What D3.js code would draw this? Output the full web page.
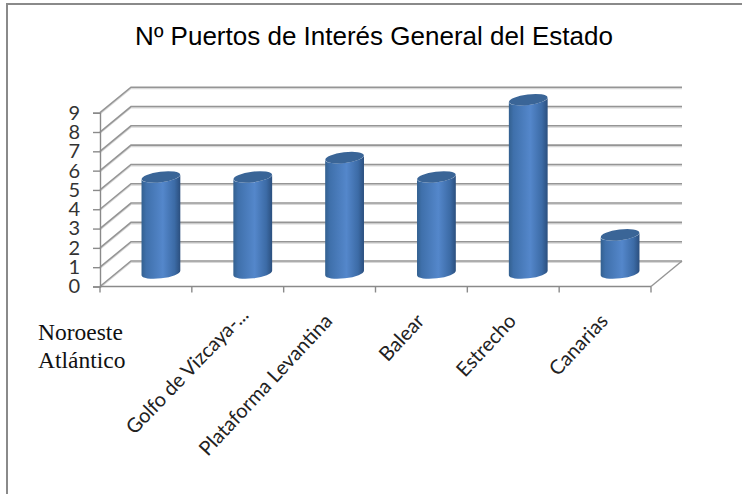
<!DOCTYPE html>
<html>
<head>
<meta charset="utf-8">
<script src="https://cdn.jsdelivr.net/npm/d3@7"></script>
<style>
  html, body { margin: 0; padding: 0; background: #fff; }
  svg { display: block; }
</style>
</head>
<body>
<div id="chart"></div>
<script>
var categories = ["Noroeste Atlántico", "Golfo de Vizcaya-...", "Plataforma Levantina", "Balear", "Estrecho", "Canarias"];
var puertos = [5, 5, 6, 5, 9, 2];
var yTicks = [0, 1, 2, 3, 4, 5, 6, 7, 8, 9];
var titulo = "Nº Puertos de Interés General del Estado";

var width = 742,
    height = 494,
    depthX = 31,   // how far the back wall is shifted from the front axis
    depthY = 25.5;

var svg = d3.select("#chart")
    .append("svg")
    .attr("width", width)
    .attr("height", height);

var x = d3.scaleBand()
    .domain(categories)
    .range([100, 651]);

var y = d3.scaleLinear()
    .domain([0, 9])
    .range([286.5, 112.7]);

var defs = svg.append("defs");

var grad = defs.append("linearGradient").attr("id", "cuerpo");
grad.append("stop").attr("offset", "0%").attr("stop-color", "#33608f");
grad.append("stop").attr("offset", "12%").attr("stop-color", "#3f70ab");
grad.append("stop").attr("offset", "55%").attr("stop-color", "#5487cb");
grad.append("stop").attr("offset", "85%").attr("stop-color", "#3c6ba6");
grad.append("stop").attr("offset", "100%").attr("stop-color", "#2b4f7e");

// frame, only top and left show in the picture
svg.append("path")
    .attr("d", "M7," + height + "V4H" + width)
    .attr("fill", "none")
    .attr("stroke", "#8a8a8a")
    .attr("stroke-width", 2);

svg.append("text")
    .attr("x", 374)
    .attr("y", 45)
    .attr("text-anchor", "middle")
    .style("font-family", "Liberation Sans, Arial, sans-serif")
    .style("font-size", "26px")
    .style("fill", "#000")
    .text(titulo);

// wall lines and the slanted part going to the front axis
var grid = svg.append("g").attr("fill", "none");

function gridPath(d) {
    var y0 = y(d);
    return "M" + x.range()[0] + "," + y0 +
        "L" + (x.range()[0] + depthX) + "," + (y0 - depthY) +
        "H" + (x.range()[1] + depthX);
}

grid.selectAll(".sombra")
    .data(yTicks)
    .enter()
    .append("path")
    .attr("class", "sombra")
    .attr("d", gridPath)
    .attr("transform", "translate(0,1.4)")
    .attr("stroke", "#d8d8d8")
    .attr("stroke-width", 1.2);

grid.selectAll(".linea")
    .data(yTicks)
    .enter()
    .append("path")
    .attr("class", "linea")
    .attr("d", gridPath)
    .attr("stroke", "#959595")
    .attr("stroke-width", 1.6);

// floor edge on the right
svg.append("path")
    .attr("d", "M" + x.range()[1] + "," + y(0) + "l" + depthX + "," + (-depthY))
    .attr("fill", "none")
    .attr("stroke", "#959595")
    .attr("stroke-width", 1.4);

// axes
var yAxis = d3.axisLeft(y)
    .tickValues(yTicks)
    .tickSize(7)
    .tickPadding(13);

var gy = svg.append("g")
    .attr("transform", "translate(100,0)")
    .call(yAxis);

gy.selectAll("text")
    .style("font-family", "Lato, sans-serif")
    .style("font-size", "20px")
    .style("fill", "#333");

var xEdges = categories.map(function(d) { return x(d); }).concat([x.range()[1]]);

var xAxis = svg.append("g");

xAxis.append("line")
    .attr("x1", x.range()[0])
    .attr("x2", x.range()[1])
    .attr("y1", y(0))
    .attr("y2", y(0));

xAxis.selectAll(".marca")
    .data(xEdges)
    .enter()
    .append("line")
    .attr("class", "marca")
    .attr("x1", function(d) { return d; })
    .attr("x2", function(d) { return d; })
    .attr("y1", y(0))
    .attr("y2", y(0) + 6);

svg.selectAll(".domain").attr("stroke", "#8a8a8a").attr("stroke-width", 1.4);
svg.selectAll(".tick line").attr("stroke", "#8a8a8a").attr("stroke-width", 1.4);
xAxis.selectAll("line").attr("stroke", "#8a8a8a").attr("stroke-width", 1.4);

// cylinders
var rx = 19.4,
    ry = 5.3,
    tilt = -7,
    dyEnd = 2.3;   // the tilted caps end higher on the right

function barCx(d) { return x(d) + x.bandwidth() / 2 + 15; }
var baseY = y(0) - 13.5;

function topY(v) { return y(v) - 13; }

function arc(x2, y2, sweep) {
    return "A" + rx + "," + ry + " " + tilt + " 0 " + sweep + " " + x2 + "," + y2;
}

var data = categories.map(function(c, i) { return { cat: c, value: puertos[i] }; });

var barras = svg.selectAll(".barra")
    .data(data)
    .enter()
    .append("g")
    .attr("class", "barra");

barras.append("path")
    .attr("fill", "url(#cuerpo)")
    .attr("d", function(d) {
        var cx = barCx(d.cat), t = topY(d.value);
        return "M" + (cx - rx) + "," + (t + dyEnd) +
            "L" + (cx - rx) + "," + (baseY + dyEnd) +
            arc(cx + rx, baseY - dyEnd, 0) +
            "L" + (cx + rx) + "," + (t - dyEnd) +
            arc(cx - rx, t + dyEnd, 1) + "Z";
    });

barras.append("ellipse")
    .attr("cx", function(d) { return barCx(d.cat); })
    .attr("cy", function(d) { return topY(d.value); })
    .attr("rx", rx)
    .attr("ry", ry)
    .attr("transform", function(d) {
        return "rotate(" + tilt + " " + barCx(d.cat) + " " + topY(d.value) + ")";
    })
    .attr("fill", "#3a6597");

// category labels: the first one is flat and in serif, the rest are slanted
var labels = svg.append("g");

labels.append("text")
    .attr("x", 38)
    .attr("y", 340)
    .style("font-family", "Liberation Serif, serif")
    .style("font-size", "23.5px")
    .style("fill", "#111")
    .selectAll("tspan")
    .data(categories[0].split(" "))
    .enter()
    .append("tspan")
    .attr("x", 38)
    .attr("dy", function(d, i) { return i ? 28 : 0; })
    .text(function(d) { return d; });

function cortada(d) { return d.slice(-3) === "..."; }  // the cut label sits higher and runs shorter

labels.selectAll(".rotada")
    .data(categories.slice(1))
    .enter()
    .append("text")
    .attr("class", "rotada")
    .attr("text-anchor", "end")
    .attr("transform", function(d) {
        var cx = x(d) + x.bandwidth() / 2;
        return cortada(d)
            ? "translate(" + (cx + 12) + ",316) rotate(-46)"
            : "translate(" + (cx + 4) + ",322) rotate(-47)";
    })
    .attr("textLength", function(d) { return cortada(d) ? 166 : null; })
    .style("font-family", "Lato, sans-serif")
    .style("font-size", "20px")
    .style("fill", "#222")
    .text(function(d) { return d; });
</script>
</body>
</html>
